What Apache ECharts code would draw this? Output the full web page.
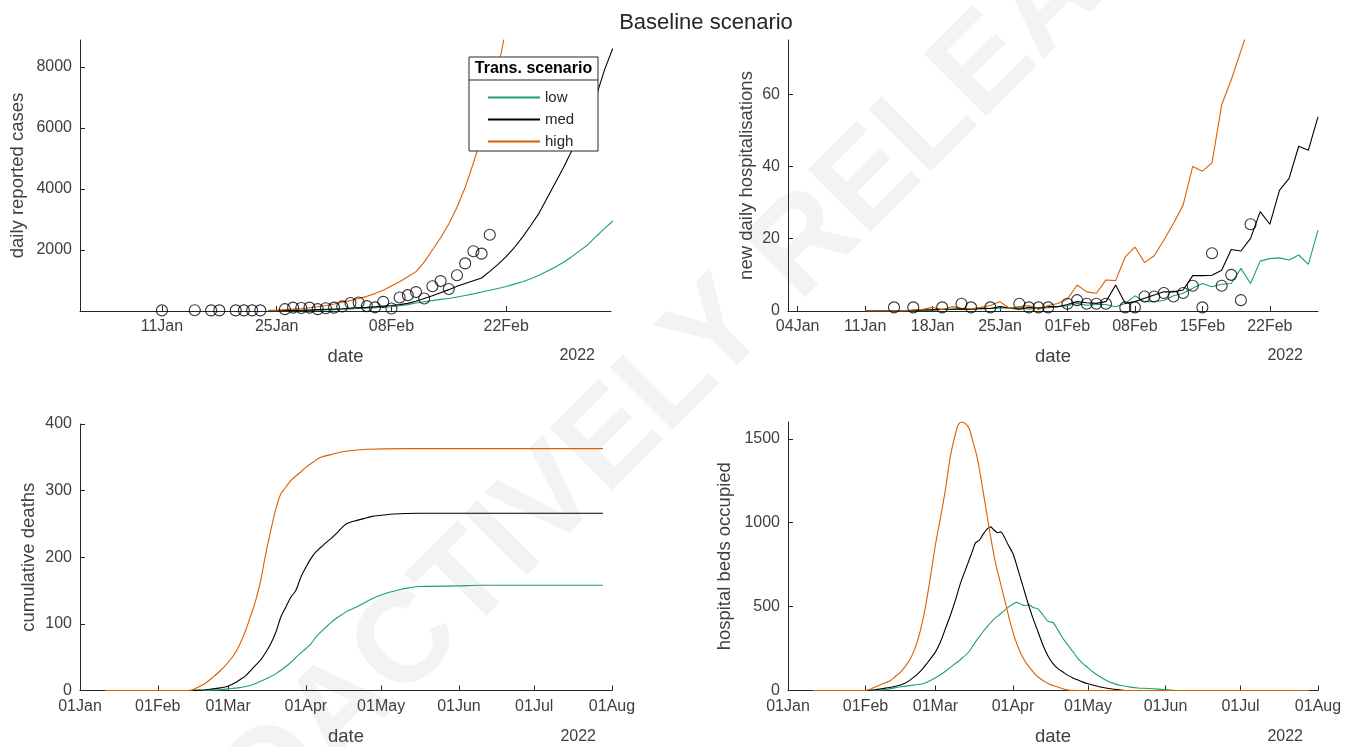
<!DOCTYPE html>
<html><head><meta charset="utf-8">
<script src="https://cdn.jsdelivr.net/npm/echarts@6/dist/echarts.min.js"></script>
<style>html,body{margin:0;padding:0;background:#fff}#c{width:1357px;height:747px}</style>
</head><body><div id="c"></div>
<script>
// ---------- DATA ----------
const monthNames = ['Jan','Feb','Mar','Apr','May','Jun','Jul','Aug','Sep','Oct','Nov','Dec'];
const scenarioNames = ['low','med','high'];

// Panel 1: daily reported cases (daily values from start day index; day 0 = 01Jan2022)
const casesStartDay = 23;
const casesLow  = [3,5,8,10,15,20,25,35,45,55,65,80,95,110,125,140,170,210,260,305,340,380,410,460,510,560,620,680,740,800,880,960,1060,1170,1300,1440,1600,1780,1980,2180,2450,2700,2950];
const casesMed  = [5,10,15,20,25,35,45,55,65,75,90,105,120,140,160,180,210,250,320,410,500,600,700,810,900,990,1080,1300,1530,1780,2080,2420,2800,3200,3700,4200,4700,5250,5800,6400,7050,7900,8600];
const casesHigh = [20,30,45,60,80,105,140,180,230,290,340,410,480,570,680,820,960,1120,1290,1600,2000,2400,2850,3400,4050,4850,5700,6700,7900,9300,10900];
const casesObsDays = [10,14,16,17,19,20,21,22,25,26,27,28,29,30,31,32,33,34,35,36,37,38,39,40,41,42,43,44,45,46,47,48,49,50];
const casesObs     = [20,25,20,20,20,20,20,20,60,110,100,110,60,90,110,150,260,280,160,120,300,80,440,520,620,410,810,980,720,1170,1560,1960,1880,2500];

// Panel 2: new daily hospitalisations
const hospStartDay = 10;
const hospLow  = [0,0,0,0,0,0.1,0.2,0.3,0.4,0.5,0.6,0.4,0.6,0.7,0.8,0.9,1.0,0.5,0.8,0.9,1.2,1.5,2.1,1.6,1.8,1.8,1.2,2.1,4.2,2.6,2.6,2.9,4.2,4.9,6.3,7.6,6.7,7.4,7.6,11.8,7.6,13.8,14.5,14.7,14.1,15.5,12.9,22.4];
const hospMed  = [0,0,0,0,0,0.2,0.3,0.3,0.5,0.5,0.6,0.4,0.8,0.7,1.2,0.8,0.5,1.0,0.8,1.2,1.2,1.8,2.6,2.3,2.1,2.6,7.2,2.1,2.6,3.5,4.4,5.3,5.3,5.8,9.8,9.8,9.9,11.3,17.0,16.6,20.1,27.5,24.0,33.4,36.7,45.6,44.5,53.7];
const hospHigh = [0,0,0,0,0,0.3,0.5,1.0,0.4,1.2,0.8,0.6,1.0,1.5,2.6,0.7,1.2,1.5,0.4,1.5,2.1,3.3,7.2,5.3,4.9,8.6,8.4,15.0,17.7,13.4,15.3,19.6,24.2,29.3,40.0,38.7,41.0,57.0,64.0,72.0,80.0];
const hospObsDays = [13,15,18,20,21,23,26,27,28,29,31,32,33,34,35,37,38,39,40,41,42,43,44,45,46,47,48,49,50];
const hospObs     = [1,1,1,2,1,1,2,1,1,1,2,3,2,2,2,1,1,4,4,5,4,5,7,1,16,7,10,3,24];

// Panel 3: cumulative deaths  [day, value]
const deathsLow  = [[10,0],[50,0],[55,1],[59,2.5],[63,4],[66,6],[69,9],[72,14],[75,19],[78,25],[81,33],[84,42],[87,53],[90,63],[92,70],[94,80],[96,88],[98,95],[100,102],[102,108],[104,113],[107,120],[110,125],[113,131],[116,137],[119,142],[122,146],[125,149],[128,152],[131,154],[135,156],[150,157],[160,158],[208.4,158]];
const deathsMed  = [[10,0],[43,0],[48,0.5],[52,2],[56,4],[59,6.5],[62,12],[64,17],[66,22],[68,30],[70,38],[72,46],[74,57],[76,70],[78,87],[80,110],[82,125],[84,140],[86,150],[88,170],[90,185],[92,198],[94,208],[96,215],[98,222],[100,228],[102,235],[104,243],[106,250],[108,253],[110,255],[113,258],[116,261],[120,263],[125,265],[135,266],[208.4,266]];
const deathsHigh = [[10,0],[43,0],[45,1],[47,5],[50,11],[53,20],[56,30],[59,42],[62,57],[64,72],[66,90],[68,112],[70,135],[72,165],[74,205],[76,240],[78,272],[80,295],[82,305],[84,315],[86,322],[88,328],[90,335],[93,343],[96,350],[100,354],[104,358],[108,360],[114,362],[130,363],[208.4,363]];

// Panel 4: hospital beds occupied  [day, value]
const bedsLow  = [[10,0],[35,0],[40,8],[45,22],[50,32],[54,40],[57,60],[60,85],[63,115],[66,150],[69,185],[72,225],[75,290],[78,350],[80,385],[82,420],[84,445],[86,470],[88,495],[90,515],[91.5,525],[93,515],[95,505],[96.5,510],[98,495],[100,485],[102,450],[104,412],[106,405],[108,360],[110,310],[112,270],[114,230],[116,190],[118,160],[120,135],[122,110],[125,80],[128,55],[131,38],[134,28],[137,20],[140,15],[144,12],[148,8],[152,4],[155,0],[208.4,0]];
const bedsMed  = [[10,0],[31,0],[35,5],[39,14],[43,25],[47,45],[50,75],[53,115],[56,170],[59,230],[61,290],[63,370],[65,450],[67,540],[69,640],[71,720],[73,800],[74,840],[75,880],[76.5,895],[78,930],[79.5,960],[81,975],[82.5,955],[84,940],[85,945],[86,930],[88,870],[90,815],[92,720],[94,620],[96,520],[98,430],[100,350],[102,270],[104,205],[106,160],[108,130],[110,110],[112,90],[114,75],[116,62],[118,50],[120,40],[123,28],[126,18],[129,10],[132,5],[136,0],[208.4,0]];
const bedsHigh = [[10,0],[31,0],[33,8],[35,22],[38,40],[41,60],[43,85],[45,110],[47,145],[49,190],[51,260],[53,360],[55,500],[57,680],[59,870],[61,1030],[63,1200],[65,1400],[67,1530],[68,1580],[69.5,1600],[71,1590],[72.5,1560],[74,1480],[75.5,1400],[77,1280],[79,1100],[81,920],[83,760],[85,640],[87,520],[89,400],[91,300],[93,225],[95,170],[97,130],[99,95],[101,70],[103,50],[105,35],[107,25],[109,15],[111,6],[113,1],[120,0],[208.4,0]];

// Tick labels
const casesXTicks = ['2022-01-11','2022-01-25','2022-02-08','2022-02-22'];
const hospXTicks  = ['2022-01-04','2022-01-11','2022-01-18','2022-01-25','2022-02-01','2022-02-08','2022-02-15','2022-02-22'];
const monthXTicks = ['2022-01-01','2022-02-01','2022-03-01','2022-04-01','2022-05-01','2022-06-01','2022-07-01','2022-08-01'];
const casesYTicks  = [2000,4000,6000,8000];
const hospYTicks   = [0,20,40,60];
const deathsYTicks = [0,100,200,300,400];
const bedsYTicks   = [0,500,1000,1500];

// ---------- BUILD ----------
const DAY = 86400000;
const T0 = Date.parse('2022-01-01T00:00:00Z');
const t = d => T0 + d * DAY;
const daily = (start, arr) => arr.map((v, i) => [t(start + i), v]);
const pairs = arr => arr.map(p => [t(p[0]), p[1]]);
const zipObs = (days, vals) => days.map((d, i) => [t(d), vals[i]]);
const ticks = arr => arr.map(s => Date.parse(s + 'T00:00:00Z'));
function fmtDate(v) { const d = new Date(v); const dd = d.getUTCDate(); return (dd < 10 ? '0' : '') + dd + monthNames[d.getUTCMonth()]; }

const FONT = 'Liberation Sans, Arial, Helvetica, sans-serif';
const AX = '#262626', TXT = '#404040';
const colors = {low: '#1b9e77', med: '#000000', high: '#d95f02'};

const grids = [
  {left: 80,  top: 40,  width: 531, height: 271},
  {left: 788, top: 40,  width: 530, height: 271},
  {left: 80,  top: 424, width: 532, height: 268},
  {left: 788, top: 422, width: 530, height: 270}
];

function xAxis(gi, min, max, tk) {
  const tv = ticks(tk);
  return {
    type: 'value', gridIndex: gi, min: Date.parse(min), max: Date.parse(max), scale: true,
    axisLine: {show: true, onZero: false, lineStyle: {color: AX, width: 1}},
    axisTick: {show: true, inside: true, length: 5, customValues: tv, lineStyle: {color: AX}},
    axisLabel: {customValues: tv, formatter: fmtDate, color: TXT, fontSize: 16, fontFamily: FONT, margin: 8, hideOverlap: false},
    splitLine: {show: false},
    name: 'date', nameLocation: 'middle', nameGap: 36.5,
    nameTextStyle: {fontSize: 18.5, color: TXT, fontFamily: FONT}
  };
}
function yAxis(gi, max, tv, name, gap) {
  return {
    type: 'value', gridIndex: gi, min: 0, max: max,
    axisLine: {show: true, onZero: false, lineStyle: {color: AX, width: 1}},
    axisTick: {show: true, inside: true, length: 5, customValues: tv, lineStyle: {color: AX}},
    axisLabel: {customValues: tv, formatter: v => String(v), color: TXT, fontSize: 16, fontFamily: FONT, margin: 8},
    splitLine: {show: false},
    name: name, nameLocation: 'middle', nameGap: gap,
    nameTextStyle: {fontSize: 18.5, color: TXT, fontFamily: FONT}
  };
}
function line(gi, name, data) {
  return {type: 'line', name: name, xAxisIndex: gi, yAxisIndex: gi, data: data,
    symbol: 'none', showSymbol: false, clip: true, z: 3,
    lineStyle: {color: colors[name], width: 1.1}, itemStyle: {color: colors[name]}};
}
function smoothLine(gi, name, data) {
  const s = line(gi, name, data); s.smooth = 0.3; return s;
}
function obs(gi, data) {
  return {type: 'scatter', name: 'data', xAxisIndex: gi, yAxisIndex: gi, data: data,
    symbol: 'circle', symbolSize: 11, clip: true, z: 4,
    itemStyle: {color: 'rgba(0,0,0,0)', borderColor: '#000', borderWidth: 1.1}};
}

const option = {
  animation: false,
  backgroundColor: '#fff',
  textStyle: {fontFamily: FONT},
  title: {text: 'Baseline scenario', left: 701, top: 7, textAlign: 'center',
    textStyle: {fontSize: 22, fontWeight: 'normal', color: '#262626', fontFamily: FONT}},
  grid: grids,
  xAxis: [
    xAxis(0, '2022-01-01T00:00:00Z', '2022-03-06T19:00:00Z', casesXTicks),
    xAxis(1, '2022-01-03T00:00:00Z', '2022-02-27T00:00:00Z', hospXTicks),
    xAxis(2, '2022-01-01T00:00:00Z', '2022-08-01T00:00:00Z', monthXTicks),
    xAxis(3, '2022-01-01T00:00:00Z', '2022-08-01T00:00:00Z', monthXTicks)
  ],
  yAxis: [
    yAxis(0, 8880, casesYTicks, 'daily reported cases', 53),
    yAxis(1, 75, hospYTicks, 'new daily hospitalisations', 32),
    yAxis(2, 400, deathsYTicks, 'cumulative deaths', 42),
    yAxis(3, 1600, bedsYTicks, 'hospital beds occupied', 54)
  ],
  legend: {
    data: scenarioNames.map(n => ({name: n, icon: 'rect'})),
    orient: 'vertical', left: 488, top: 90, padding: 0, itemWidth: 52, itemHeight: 2, itemGap: 7,
    selectedMode: false, z: 30,
    textStyle: {fontSize: 15, color: '#262626', fontFamily: FONT}
  },
  series: [
    line(0, 'low', daily(casesStartDay, casesLow)),
    line(0, 'med', daily(casesStartDay, casesMed)),
    line(0, 'high', daily(casesStartDay, casesHigh)),
    obs(0, zipObs(casesObsDays, casesObs)),
    line(1, 'low', daily(hospStartDay, hospLow)),
    line(1, 'med', daily(hospStartDay, hospMed)),
    line(1, 'high', daily(hospStartDay, hospHigh)),
    obs(1, zipObs(hospObsDays, hospObs)),
    smoothLine(2, 'low', pairs(deathsLow)),
    smoothLine(2, 'med', pairs(deathsMed)),
    smoothLine(2, 'high', pairs(deathsHigh)),
    smoothLine(3, 'low', pairs(bedsLow)),
    smoothLine(3, 'med', pairs(bedsMed)),
    smoothLine(3, 'high', pairs(bedsHigh))
  ],
  graphic: [
    {type: 'text', x: 690, y: 362, rotation: 45 * Math.PI / 180, z: 0, silent: true,
      style: {text: 'PROACTIVELY RELEASED', fill: '#f3f3f3', font: 'bold 128px ' + FONT, align: 'center', verticalAlign: 'middle'}},
    {type: 'rect', shape: {x: 469, y: 57, width: 129, height: 94}, z: 20,
      style: {fill: '#fff', stroke: AX, lineWidth: 1}},
    {type: 'line', shape: {x1: 469, y1: 80, x2: 598, y2: 80}, z: 21, style: {stroke: AX, lineWidth: 1}},
    {type: 'text', x: 533.5, y: 69, z: 21,
      style: {text: 'Trans. scenario', fill: '#000', font: 'bold 16px ' + FONT, align: 'center', verticalAlign: 'middle'}},
    {type: 'text', x: 595, y: 356, z: 5, style: {text: '2022', fill: TXT, font: '16px ' + FONT, align: 'right', verticalAlign: 'middle'}},
    {type: 'text', x: 1303, y: 356, z: 5, style: {text: '2022', fill: TXT, font: '16px ' + FONT, align: 'right', verticalAlign: 'middle'}},
    {type: 'text', x: 596, y: 737, z: 5, style: {text: '2022', fill: TXT, font: '16px ' + FONT, align: 'right', verticalAlign: 'middle'}},
    {type: 'text', x: 1303, y: 737, z: 5, style: {text: '2022', fill: TXT, font: '16px ' + FONT, align: 'right', verticalAlign: 'middle'}}
  ]
};

const chart = echarts.init(document.getElementById('c'), null, {renderer: 'canvas', width: 1357, height: 747});
chart.setOption(option);
</script>
</body></html>
